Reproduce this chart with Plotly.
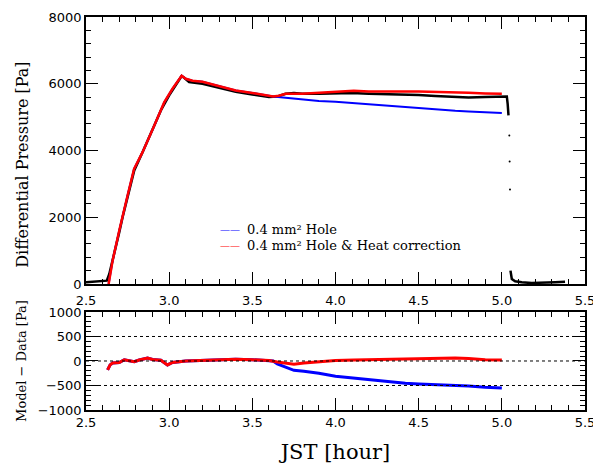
import plotly.graph_objects as go
from plotly.subplots import make_subplots

# ── DATA ─────────────────────────────────────────────────────────────────────

# measured differential pressure (black dots)
DATA_T = [2.50, 2.55, 2.60, 2.625, 2.64, 2.66, 2.70, 2.72, 2.75, 2.79, 2.84,
          2.90, 2.95, 3.00, 3.05, 3.075, 3.09, 3.12, 3.20, 3.30, 3.40, 3.50,
          3.60, 3.65, 3.70, 3.75, 3.80, 3.90, 4.00, 4.10, 4.20, 4.30, 4.40,
          4.50, 4.60, 4.70, 4.80, 4.90, 5.00, 5.03, 5.035, 5.04]
DATA_P = [50, 70, 85, 100, 300, 700, 1550, 2000, 2600, 3400, 3950,
          4650, 5200, 5650, 6050, 6230, 6180, 6050, 6000, 5880, 5760, 5680,
          5600, 5620, 5700, 5720, 5700, 5700, 5710, 5720, 5700, 5690, 5670,
          5660, 5630, 5600, 5590, 5600, 5620, 5620, 5400, 5050]
# isolated samples during the fast drop
DROP_T = [5.045, 5.047, 5.049]
DROP_P = [4450, 3670, 2830]
# after the drop
TAIL_T = [5.052, 5.055, 5.06, 5.08, 5.12, 5.18, 5.25, 5.32, 5.38]
TAIL_P = [400, 270, 150, 80, 50, 30, 35, 55, 70]

# model: 0.4 mm^2 hole
HOLE_T = [2.636, 2.66, 2.70, 2.718, 2.75, 2.789, 2.84, 2.91, 2.97, 3.02, 3.075,
          3.10, 3.14, 3.20, 3.30, 3.40, 3.52, 3.60, 3.625, 3.70, 3.81, 3.90,
          4.00, 4.11, 4.20, 4.30, 4.42, 4.50, 4.60, 4.72, 4.80, 4.90, 5.00]
HOLE_P = [0, 700, 1600, 1950, 2650, 3450, 3950, 4740, 5440, 5850, 6240,
          6150, 6090, 6060, 5920, 5800, 5710, 5640, 5620, 5580, 5520, 5480,
          5460, 5420, 5380, 5330, 5290, 5260, 5220, 5190, 5170, 5140, 5120]

# model: 0.4 mm^2 hole & heat correction
HEAT_T = [2.636, 2.66, 2.70, 2.718, 2.75, 2.789, 2.84, 2.91, 2.97, 3.02, 3.075,
          3.10, 3.14, 3.20, 3.30, 3.40, 3.52, 3.60, 3.625, 3.66, 3.70, 3.80,
          3.90, 4.00, 4.11, 4.20, 4.30, 4.42, 4.50, 4.60, 4.72, 4.80, 4.90, 5.00]
HEAT_P = [0, 700, 1600, 1950, 2650, 3450, 3950, 4740, 5440, 5850, 6240,
          6150, 6090, 6060, 5920, 5800, 5710, 5640, 5620, 5640, 5700, 5700,
          5730, 5760, 5790, 5770, 5760, 5765, 5770, 5760, 5760, 5730, 5710, 5700]

# residuals (model - data)
RES_HOLE_T = [2.63, 2.645, 2.66, 2.70, 2.73, 2.76, 2.79, 2.82, 2.87, 2.90, 2.95,
              2.99, 3.02, 3.10, 3.20, 3.30, 3.40, 3.50, 3.60, 3.625, 3.65, 3.70,
              3.75, 3.81, 3.90, 4.00, 4.11, 4.22, 4.30, 4.42, 4.50, 4.60, 4.72,
              4.80, 4.90, 5.00]
RES_HOLE = [-180, -80, -40, -30, 25, 0, -15, 20, 60, 30, 15,
            -80, -30, 0, 15, 25, 35, 25, 10, 0, -60, -130,
            -190, -210, -250, -310, -350, -380, -410, -455, -470, -480, -490,
            -510, -535, -550]
RES_HEAT_T = [2.63, 2.645, 2.66, 2.70, 2.73, 2.76, 2.79, 2.82, 2.87, 2.90, 2.95,
              2.99, 3.02, 3.10, 3.20, 3.30, 3.40, 3.50, 3.60, 3.65, 3.70, 3.75,
              3.81, 3.90, 4.00, 4.11, 4.20, 4.30, 4.42, 4.50, 4.60, 4.72, 4.80,
              4.90, 5.00]
RES_HEAT = [-180, -80, -40, -30, 25, 0, -15, 20, 60, 30, 15,
            -80, -30, 0, 15, 25, 35, 25, 10, -20, -50, -65,
            -40, -10, 10, 20, 25, 35, 40, 55, 60, 60, 50,
            25, 20]

REF_LEVELS = [500, 0, -500]

X_RANGE = [2.5, 5.5]
P_RANGE = [0, 8000]
R_RANGE = [-1000, 1000]

LABEL_HOLE = "0.4 mm² Hole"
LABEL_HEAT = "0.4 mm² Hole & Heat correction"

# ── STYLE ────────────────────────────────────────────────────────────────────

TICK_FONT = dict(family="DejaVu Sans", size=13, color="black")
TITLE_FONT = "DejaVu Serif"

fig = make_subplots(rows=2, cols=1)

fig.add_trace(go.Scatter(x=DATA_T, y=DATA_P, mode="lines", showlegend=False,
                         line=dict(color="black", width=2.5)), row=1, col=1)
fig.add_trace(go.Scatter(x=DROP_T, y=DROP_P, mode="markers", showlegend=False,
                         marker=dict(color="black", size=2)), row=1, col=1)
fig.add_trace(go.Scatter(x=TAIL_T, y=TAIL_P, mode="lines", showlegend=False,
                         line=dict(color="black", width=2.5)), row=1, col=1)
fig.add_trace(go.Scatter(x=HOLE_T, y=HOLE_P, mode="lines", name=LABEL_HOLE,
                         showlegend=False, line=dict(color="blue", width=2)), row=1, col=1)
fig.add_trace(go.Scatter(x=HEAT_T, y=HEAT_P, mode="lines", name=LABEL_HEAT,
                         showlegend=False, line=dict(color="red", width=2.5)), row=1, col=1)

fig.add_trace(go.Scatter(x=RES_HOLE_T, y=RES_HOLE, mode="lines", showlegend=False,
                         line=dict(color="blue", width=3)), row=2, col=1)
fig.add_trace(go.Scatter(x=RES_HEAT_T, y=RES_HEAT, mode="lines", showlegend=False,
                         line=dict(color="red", width=3)), row=2, col=1)

for lvl in REF_LEVELS:
    fig.add_hline(y=lvl, line=dict(color="black", dash="dot", width=1), row=2, col=1)

# legend drawn as text so the two rows sit as tight as in the original
for label, color, ypos in [(LABEL_HOLE, "blue", 0.203), (LABEL_HEAT, "red", 0.143)]:
    fig.add_annotation(
        xref="x domain", yref="y domain", x=0.265, y=ypos,
        xanchor="left", yanchor="middle", showarrow=False,
        text="——", font=dict(family=TITLE_FONT, size=10, color=color),
    )
    fig.add_annotation(
        xref="x domain", yref="y domain", x=0.318, y=ypos,
        xanchor="left", yanchor="middle", showarrow=False,
        text=label, font=dict(family=TITLE_FONT, size=13, color="black"),
    )

# top y title sits a little below the panel centre in the original
fig.add_annotation(
    xref="paper", yref="paper", x=-0.127, y=0.623, textangle=-90,
    xanchor="center", yanchor="middle", showarrow=False,
    text="Differential Pressure [Pa]",
    font=dict(family=TITLE_FONT, size=16, color="black"),
)

axis_common = dict(
    showline=True, linecolor="black", linewidth=1.5, mirror="ticks",
    ticks="inside", ticklen=12, tickwidth=1, tickcolor="black",
    showgrid=False, zeroline=False, tickfont=TICK_FONT, automargin=False,
)
minor_common = dict(
    showline=True, linecolor="black", linewidth=1.5, mirror="ticks",
    ticks="inside", ticklen=5, tickwidth=1, tickcolor="black",
    showgrid=False, zeroline=False, showticklabels=False, automargin=False,
)

fig.update_xaxes(range=X_RANGE, dtick=0.5, tick0=2.5, tickformat=".1f", **axis_common)
fig.update_xaxes(row=1, col=1, ticklabelstandoff=4)
fig.update_xaxes(row=2, col=1,
                 title=dict(text="JST [hour]", font=dict(family=TITLE_FONT, size=21, color="black"),
                            standoff=15))

fig.update_yaxes(row=1, col=1, range=P_RANGE, dtick=2000, **axis_common)
fig.update_yaxes(row=2, col=1, range=R_RANGE, dtick=500,
                 title=dict(text="Model − Data [Pa]",
                            font=dict(family=TITLE_FONT, size=13, color="black"), standoff=8),
                 **axis_common)

# overlay axes that carry only the short minor ticks
fig.update_layout(
    xaxis3=dict(overlaying="x", anchor="y", range=X_RANGE, tick0=2.5, dtick=0.1, **minor_common),
    yaxis3=dict(overlaying="y", anchor="x", range=P_RANGE, tick0=0, dtick=400, **minor_common),
    xaxis4=dict(overlaying="x2", anchor="y2", range=X_RANGE, tick0=2.5, dtick=0.1, **minor_common),
    yaxis4=dict(overlaying="y2", anchor="x2", range=R_RANGE, tick0=0, dtick=100, **minor_common),
)
for xa, ya in [("x3", "y"), ("x", "y3"), ("x4", "y2"), ("x2", "y4")]:
    fig.add_trace(go.Scatter(x=[None], y=[None], xaxis=xa, yaxis=ya, showlegend=False,
                             hoverinfo="skip"))

# margins allow for the page's own 8 px body offset
fig.update_layout(
    width=601, height=467,
    margin=dict(l=78, r=24, t=9, b=65),
    plot_bgcolor="white", paper_bgcolor="white",
    yaxis=dict(domain=[0.3206, 1.0]),
    yaxis2=dict(domain=[0.0, 0.2494]),
    showlegend=False,
)

fig.write_html("out.html")
